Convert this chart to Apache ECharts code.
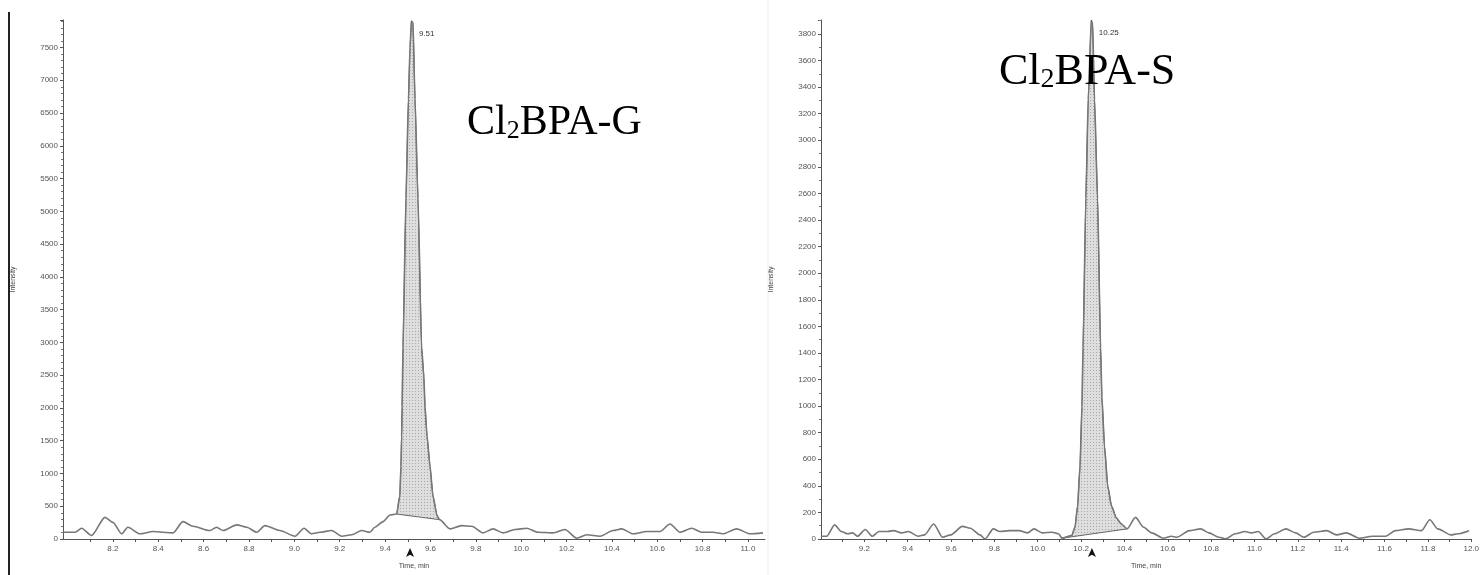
<!DOCTYPE html>
<html><head><meta charset="utf-8">
<script src="https://cdn.jsdelivr.net/npm/echarts@6/dist/echarts.min.js"></script>
<style>html,body{margin:0;padding:0;background:#fff}#c{width:1482px;height:575px}</style>
</head><body><div id="c"></div>
<script>
// ---------- data ----------
const leftTimes = [7.98, 8.033, 8.062, 8.106, 8.165, 8.200, 8.239, 8.266, 8.319, 8.377, 8.465, 8.509, 8.553, 8.628, 8.657, 8.685, 8.746, 8.790, 8.834, 8.870, 8.936, 9.003, 9.043, 9.076, 9.113, 9.164, 9.209, 9.253, 9.297, 9.333, 9.355, 9.391, 9.422, 9.451, 9.465, 9.470, 9.473, 9.475, 9.479, 9.492, 9.503, 9.510, 9.516, 9.523, 9.532, 9.545, 9.561, 9.571, 9.576, 9.585, 9.598, 9.611, 9.629, 9.640, 9.686, 9.738, 9.782, 9.832, 9.876, 9.920, 9.973, 10.024, 10.074, 10.140, 10.193, 10.245, 10.289, 10.348, 10.405, 10.443, 10.493, 10.553, 10.612, 10.656, 10.700, 10.752, 10.796, 10.846, 10.890, 10.950, 11.009, 11.066];
const leftIntensity = [103, 103, 163, 53, 330, 254, 79, 179, 79, 114, 94, 265, 194, 129, 179, 129, 215, 179, 103, 204, 129, 42, 163, 79, 103, 129, 42, 64, 129, 103, 179, 265, 366, 381, 660, 1110, 1570, 2020, 2930, 5200, 6710, 7500, 7900, 7880, 6710, 5200, 2930, 2475, 2021, 1567, 1113, 659, 356, 295, 154, 204, 194, 94, 154, 94, 144, 164, 103, 94, 144, 12, 64, 42, 129, 154, 79, 114, 114, 230, 103, 164, 103, 103, 79, 154, 79, 94];
const rightTimes = [9.0, 9.026, 9.063, 9.094, 9.124, 9.146, 9.169, 9.204, 9.237, 9.267, 9.305, 9.335, 9.372, 9.403, 9.448, 9.478, 9.520, 9.561, 9.599, 9.652, 9.689, 9.734, 9.757, 9.795, 9.825, 9.870, 9.915, 9.953, 9.983, 10.021, 10.067, 10.096, 10.112, 10.157, 10.172, 10.184, 10.195, 10.204, 10.209, 10.222, 10.233, 10.247, 10.253, 10.262, 10.276, 10.290, 10.296, 10.308, 10.323, 10.340, 10.362, 10.385, 10.412, 10.451, 10.489, 10.526, 10.579, 10.617, 10.642, 10.700, 10.752, 10.790, 10.836, 10.866, 10.911, 10.956, 10.986, 11.017, 11.054, 11.092, 11.145, 11.190, 11.228, 11.273, 11.333, 11.379, 11.424, 11.484, 11.544, 11.605, 11.650, 11.710, 11.771, 11.809, 11.846, 11.906, 11.937, 11.990];
const rightIntensity = [21, 21, 106, 56, 39, 46, 21, 71, 21, 56, 56, 63, 46, 56, 21, 31, 113, 13, 31, 95, 81, 31, 0, 76, 56, 63, 63, 46, 76, 46, 51, 39, 6, 26, 90, 250, 548, 996, 1443, 2563, 3308, 3900, 3880, 3308, 2563, 1443, 1070, 697, 399, 250, 160, 115, 76, 163, 88, 46, 6, 21, 13, 63, 76, 46, 13, 1, 39, 56, 46, 56, 1, 39, 76, 46, 13, 51, 63, 31, 46, 6, 21, 21, 63, 76, 63, 145, 76, 31, 39, 63];

const leftXLabels = [8.2, 8.4, 8.6, 8.8, 9.0, 9.2, 9.4, 9.6, 9.8, 10.0, 10.2, 10.4, 10.6, 10.8, 11.0];
const rightXLabels = [9.2, 9.4, 9.6, 9.8, 10.0, 10.2, 10.4, 10.6, 10.8, 11.0, 11.2, 11.4, 11.6, 11.8, 12.0];

const leftPeakRT = 9.51, leftPeakLabel = '9.51';
const rightPeakRT = 10.25, rightPeakLabel = '10.25';
const leftPeakRange = [9.451, 9.640];   // integrated region (baseline end points)
const rightPeakRange = [10.112, 10.412];

const leftTitle = ['Cl', '2', 'BPA-G'];
const rightTitle = ['Cl', '2', 'BPA-S'];
const xName = 'Time, min';
const yName = 'Intensity';

// ---------- helpers ----------
function pairs(t, v) { return t.map((x, i) => [x, v[i]]); }
function midTicks(labels, first) {
  const out = [];
  let prev = first;
  labels.forEach(l => { out.push(+((prev + l) / 2).toFixed(3)); out.push(l); prev = l; });
  return out;
}
const dotCanvas = document.createElement('canvas');
dotCanvas.width = 3; dotCanvas.height = 3;
(function () {
  const g = dotCanvas.getContext('2d');
  g.fillStyle = '#dedede'; g.fillRect(0, 0, 3, 3);
  g.fillStyle = '#a8a8a8'; g.fillRect(1, 1, 1, 1);
})();

function peakPolygon(times, vals, range, xi) {
  return {
    type: 'custom', xAxisIndex: xi, yAxisIndex: xi, z: 1, silent: true,
    data: [[range[0], 0]],
    renderItem: function (params, api) {
      const pts = [];
      times.forEach((t, i) => { if (t >= range[0] && t <= range[1]) pts.push(api.coord([t, vals[i]])); });
      return { type: 'polygon', shape: { points: pts },
        style: { fill: { image: dotCanvas, repeat: 'repeat' }, stroke: '#666', lineWidth: 1 } };
    }
  };
}

const labelStyle = { fontSize: 8, color: '#555', fontFamily: 'Liberation Sans' };
const axisLineStyle = { lineStyle: { color: '#555', width: 1 } };

function xAxisDef(idx, min, max, labels, first) {
  return {
    type: 'value', gridIndex: idx, min: min, max: max,
    name: xName, nameLocation: 'middle', nameGap: 24,
    nameTextStyle: { fontSize: 7, color: '#444', fontFamily: 'Liberation Sans' },
    axisLine: axisLineStyle,
    axisTick: { show: true, customValues: midTicks(labels, first), length: 3, lineStyle: { color: '#555' } },
    axisLabel: Object.assign({ customValues: labels, margin: 6, formatter: v => v.toFixed(1) }, labelStyle),
    splitLine: { show: false }
  };
}
function yAxisDef(idx, max, interval, minorSplit) {
  return {
    type: 'value', gridIndex: idx, min: 0, max: max, interval: interval,
    name: yName, nameLocation: 'middle', nameGap: 46, nameRotate: 90,
    nameTextStyle: { fontSize: 7, color: '#444', fontFamily: 'Liberation Sans' },
    axisLine: { show: true, lineStyle: { color: '#555', width: 1 } },
    axisTick: { show: true, length: 3, lineStyle: { color: '#555' } },
    minorTick: { show: true, splitNumber: minorSplit, length: 2, lineStyle: { color: '#777' } },
    axisLabel: Object.assign({ showMaxLabel: false, margin: 5, formatter: v => String(v) }, labelStyle),
    splitLine: { show: false }
  };
}
function traceSeries(times, vals, xi, rt, lbl) {
  const peakVal = Math.max.apply(null, vals);
  const peakT = times[vals.indexOf(peakVal)];
  return {
    type: 'line', xAxisIndex: xi, yAxisIndex: xi, z: 3, symbol: 'none',
    smooth: 0.25, smoothMonotone: 'x', data: pairs(times, vals),
    lineStyle: { color: '#777', width: 1.6 },
    markPoint: {
      silent: true, animation: false,
      data: [
        { coord: [peakT, peakVal], symbol: 'circle', symbolSize: 1,
          label: { show: true, formatter: lbl, position: 'right', offset: [2, 12], fontSize: 8, color: '#333', fontFamily: 'Liberation Sans' },
          itemStyle: { color: '#333' } },
        { coord: [rt, 0], symbol: 'arrow', symbolSize: [6, 9], symbolOffset: [0, 9],
          label: { show: false }, itemStyle: { color: '#111' } }
      ]
    }
  };
}
function titleText(parts, left, top, size) {
  return {
    type: 'text', left: left, top: top, z: 10,
    style: {
      text: '{a|' + parts[0] + '}{b|' + parts[1] + '}{a|' + parts[2] + '}',
      rich: {
        a: { fontFamily: 'Liberation Serif', fontSize: size, lineHeight: size + 6, fill: '#000', verticalAlign: 'bottom' },
        b: { fontFamily: 'Liberation Serif', fontSize: Math.round(size * 0.63), lineHeight: size - 2, fill: '#000', verticalAlign: 'bottom' }
      }
    }
  };
}

const chart = echarts.init(document.getElementById('c'), null, { renderer: 'canvas' });
chart.setOption({
  animation: false,
  backgroundColor: '#fff',
  grid: [
    { left: 63, top: 20, width: 702, height: 523.5 },
    { left: 821, top: 20, width: 663, height: 523.5 }
  ],
  xAxis: [
    xAxisDef(0, 7.98, 11.075, leftXLabels, 8.0),
    xAxisDef(1, 9.0, 12.0, rightXLabels, 9.0)
  ],
  yAxis: [
    yAxisDef(0, 7920, 500, 5),
    yAxisDef(1, 3905, 200, 2)
  ],
  graphic: [
    { type: 'line', shape: { x1: 9, y1: 12, x2: 9, y2: 575 }, style: { stroke: '#222', lineWidth: 2 } },
    { type: 'line', shape: { x1: 768, y1: 0, x2: 768, y2: 575 }, style: { stroke: '#eeeeee', lineWidth: 1 } },
    titleText(leftTitle, 467, 102, 42),
    titleText(rightTitle, 999, 50, 44)
  ],
  series: [
    peakPolygon(leftTimes, leftIntensity, leftPeakRange, 0),
    traceSeries(leftTimes, leftIntensity, 0, leftPeakRT, leftPeakLabel),
    peakPolygon(rightTimes, rightIntensity, rightPeakRange, 1),
    traceSeries(rightTimes, rightIntensity, 1, rightPeakRT, rightPeakLabel)
  ]
});
</script></body></html>
